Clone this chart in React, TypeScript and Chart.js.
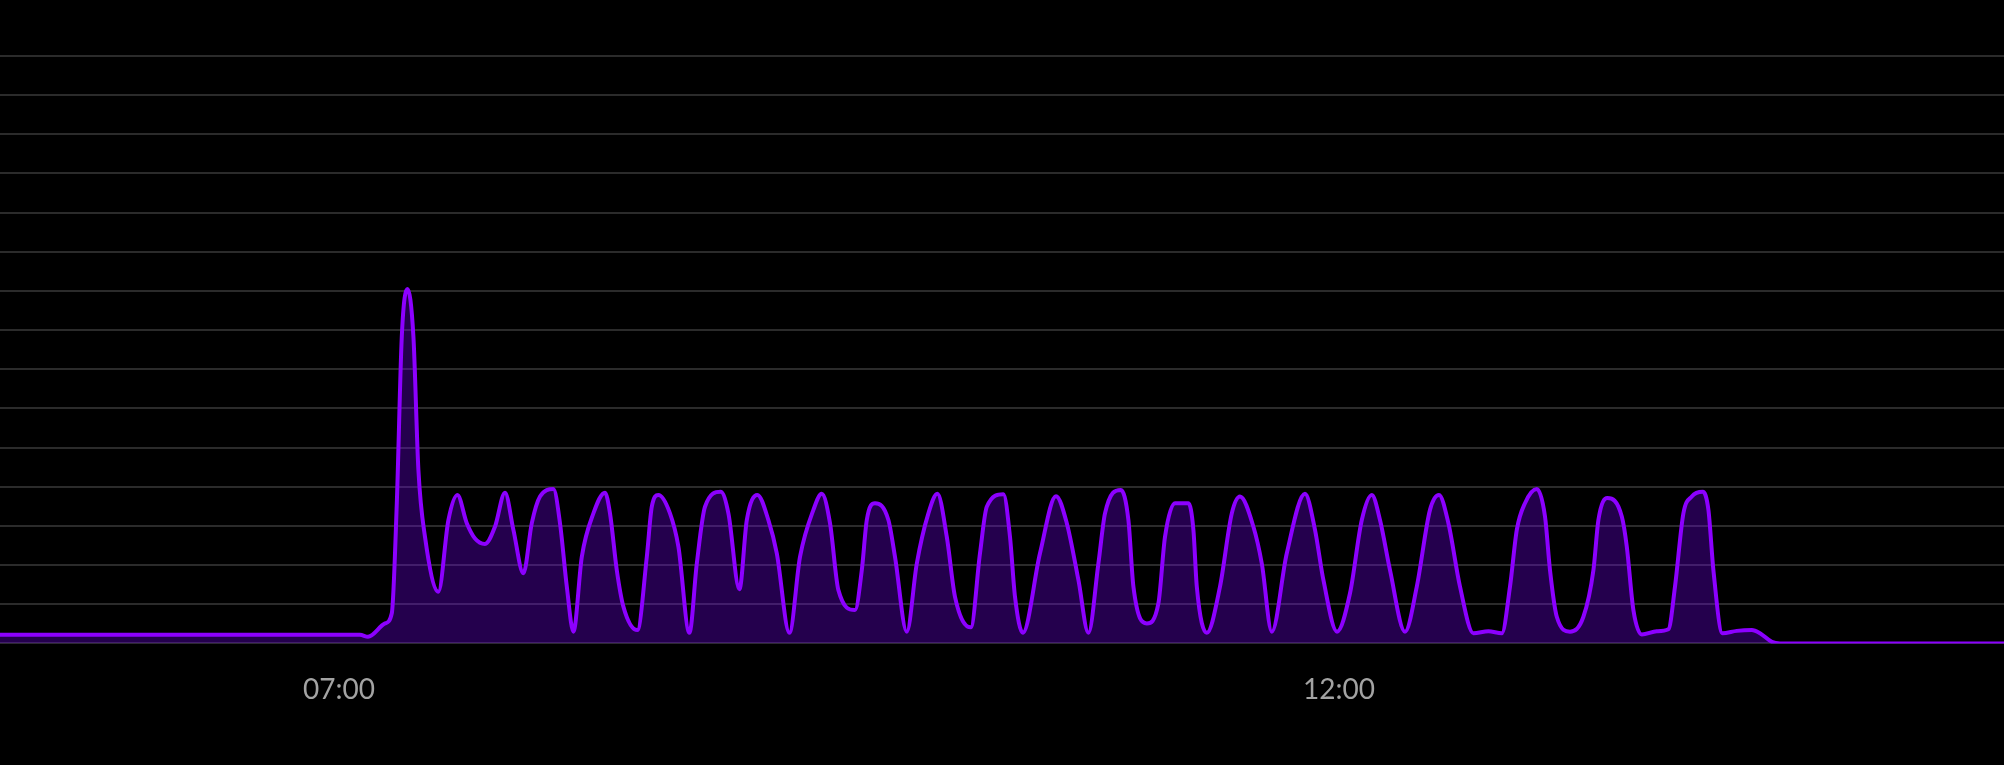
import React, { useEffect, useRef } from "react";
import { Chart, registerables } from "chart.js";

Chart.register(...registerables);

// time of day in decimal hours
const times: number[] = [
  5.305, 6.3, 7.0, 7.105, 7.145, 7.23, 7.264, 7.289, 7.314, 7.342, 7.372, 7.397, 7.43, 7.497,
  7.547, 7.592, 7.639, 7.68, 7.73, 7.78, 7.83, 7.872, 7.922, 7.964, 8.005, 8.072, 8.105, 8.139,
  8.172, 8.214, 8.272, 8.33, 8.355, 8.389, 8.422, 8.492, 8.539, 8.564, 8.597, 8.655, 8.697, 8.752,
  8.789, 8.83, 8.909, 8.947, 9.002, 9.039, 9.092, 9.147, 9.189, 9.252, 9.305, 9.372, 9.414, 9.455,
  9.497, 9.58, 9.614, 9.639, 9.68, 9.747, 9.78, 9.839, 9.889, 9.947, 9.992, 10.039, 10.08, 10.159,
  10.205, 10.239, 10.322, 10.355, 10.38, 10.419, 10.505, 10.585, 10.639, 10.697, 10.747, 10.797,
  10.83, 10.909, 10.947, 10.972, 11.039, 11.097, 11.13, 11.18, 11.247, 11.272, 11.289, 11.339,
  11.405, 11.464, 11.505, 11.572, 11.614, 11.664, 11.739, 11.83, 11.88, 11.922, 11.99, 12.055,
  12.114, 12.164, 12.205, 12.255, 12.33, 12.389, 12.455, 12.5, 12.547, 12.605, 12.672, 12.747,
  12.814, 12.855, 12.889, 12.93, 12.989, 13.03, 13.055, 13.089, 13.155, 13.222, 13.272, 13.297,
  13.342, 13.414, 13.439, 13.472, 13.514, 13.589, 13.647, 13.68, 13.722, 13.764, 13.819, 13.847,
  13.872, 13.917, 13.989, 14.064, 14.105, 14.164, 14.205, 15.325,
];

const values: number[] = [
  2.2, 2.2, 2.2, 2.2, 1.7, 5.1, 7.7, 35.8, 78.4, 90.5, 78.4, 44.3, 27.2, 13.2,
  31.5, 37.9, 30.7, 26.8, 25.4, 29.8, 38.5, 29.0, 17.9, 30.7, 37.5, 39.4, 30.7, 14.5,
  3.0, 22.1, 33.2, 38.5, 33.2, 18.7, 9.4, 3.4, 22.1, 34.9, 37.9, 33.2, 24.7, 2.7,
  20.4, 34.9, 38.7, 33.2, 13.8, 31.5, 37.9, 31.5, 23.0, 2.7, 22.1, 34.1, 38.2, 30.7,
  13.6, 8.5, 18.7, 31.5, 35.8, 31.5, 22.1, 3.0, 20.4, 33.2, 38.2, 27.2, 11.9, 4.1,
  23.0, 34.9, 38.1, 27.2, 11.9, 2.7, 23.0, 37.6, 30.7, 16.2, 2.7, 20.4,
  33.2, 39.2, 31.5, 14.5, 5.1, 10.2, 27.2, 35.8, 35.8, 29.0, 14.5, 2.7,
  14.5, 33.2, 37.5, 29.8, 20.4, 3.0, 23.0, 38.2, 29.0, 16.2, 3.0, 12.8,
  31.5, 37.9, 31.5, 18.7, 3.0, 14.5, 34.1, 37.9, 30.7, 14.5, 2.6, 3.1,
  2.6, 14.5, 29.0, 35.8, 39.4, 32.4, 18.7, 6.8, 3.0, 6.8, 18.7, 31.5,
  37.1, 32.4, 24.7, 8.5, 2.3, 3.1, 3.6, 14.5, 33.2, 37.5, 38.7, 34.1,
  18.7, 2.6, 3.2, 3.4, 2.6, 0.4, 0, 0,
];

const xTickHours: number[] = [7, 12];
const xMin = 5.305;
const xMax = 15.325;
const yMax = 150;
const yStep = 10;

function fmtHour(h: number): string {
  const hh = Math.floor(h);
  const mm = Math.round((h - hh) * 60);
  return String(hh).padStart(2, "0") + ":" + String(mm).padStart(2, "0");
}

export default function App() {
  const ref = useRef<HTMLCanvasElement | null>(null);

  useEffect(() => {
    if (!ref.current) return;
    const chart = new Chart(ref.current, {
      type: "line",
      data: {
        datasets: [
          {
            data: times.map((t, i) => ({ x: t, y: values[i] })),
            borderColor: "#8c00ff",
            backgroundColor: "rgba(120,0,255,0.3)",
            borderWidth: 4,
            fill: "origin",
            pointRadius: 0,
            cubicInterpolationMode: "monotone",
          },
        ],
      },
      options: {
        responsive: false,
        animation: false,
        maintainAspectRatio: false,
        layout: { padding: { top: 56, left: 0, right: 0, bottom: 28 } },
        plugins: { legend: { display: false }, tooltip: { enabled: false } },
        scales: {
          x: {
            type: "linear",
            min: xMin,
            max: xMax,
            afterBuildTicks: (axis: any) => {
              axis.ticks = xTickHours.map((v) => ({ value: v }));
            },
            grid: { display: false, drawTicks: false },
            border: { display: false },
            ticks: {
              autoSkip: false,
              maxRotation: 0,
              padding: 30,
              color: "#a3a3a3",
              font: { family: "Lato", size: 28 },
              callback: (v: any) => fmtHour(Number(v)),
            },
          },
          y: {
            min: 0,
            max: yMax,
            display: true,
            ticks: { display: false, stepSize: yStep },
            grid: { color: "#2b2b2b", lineWidth: 2, drawTicks: false },
            border: { display: false },
          },
        },
      },
    });
    return () => chart.destroy();
  }, []);

  return (
    <div style={{ position: "fixed", left: 0, top: 0, width: 2004, height: 765, background: "#000" }}>
      <canvas ref={ref} width={2004} height={765} style={{ display: "block" }} />
    </div>
  );
}
